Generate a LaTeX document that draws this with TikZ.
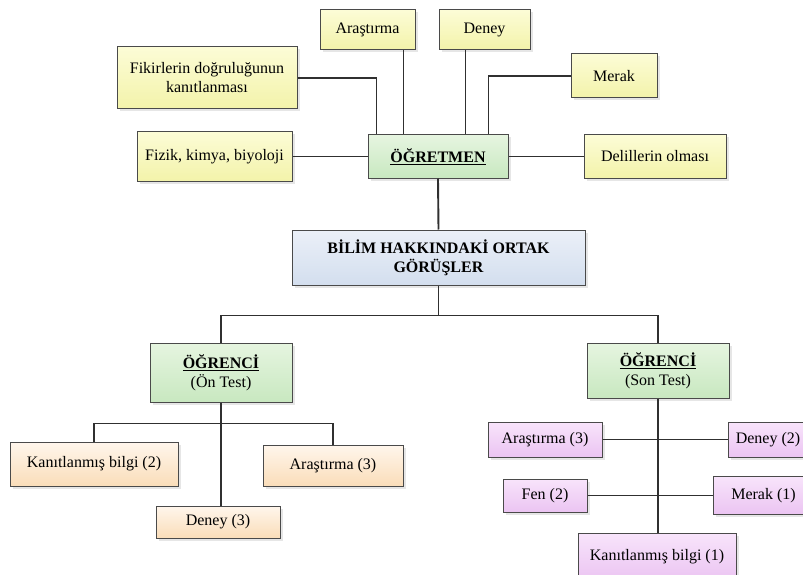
\documentclass[tikz,border=0pt]{standalone}
\usepackage{fontspec}
\setmainfont{Liberation Serif}
\usetikzlibrary{shadows}

\definecolor{linegray}{HTML}{303030}
\definecolor{boxgray}{HTML}{4A4A4A}
\definecolor{yellowtop}{HTML}{FCFCD6}
\definecolor{yellowbot}{HTML}{F3F3AA}
\definecolor{greentop}{HTML}{E6F5E0}
\definecolor{greenbot}{HTML}{C8E8C0}
\definecolor{bluetop}{HTML}{EBF0F8}
\definecolor{bluebot}{HTML}{D3DEEE}
\definecolor{peachtop}{HTML}{FFF6EC}
\definecolor{peachbot}{HTML}{FADDB9}
\definecolor{violettop}{HTML}{F8E4FB}
\definecolor{violetbot}{HTML}{EBC4F2}

\begin{document}
\begin{tikzpicture}[
      x=1pt, y=-1pt,
      every node/.style={align=center, font=\fontsize{16}{19}\selectfont},
      box/.style={draw=boxgray, line width=1pt, inner sep=2pt,
        drop shadow={opacity=0.2, shadow xshift=2.5pt, shadow yshift=-2.5pt}},
      idea/.style={box, top color=yellowtop, bottom color=yellowbot},
      person/.style={box, top color=greentop, bottom color=greenbot},
      central/.style={box, top color=bluetop, bottom color=bluebot},
      pretest/.style={box, top color=peachtop, bottom color=peachbot},
      posttest/.style={box, top color=violettop, bottom color=violetbot},
      link/.style={draw=linegray, line width=1.9pt}
    ]
      \useasboundingbox (0,0) rectangle (803,575);

% Nodes
      \node[idea, minimum width=95pt, minimum height=40pt] (arastirma) at (367.5,30) {Araştırma};
      \node[idea, minimum width=91pt, minimum height=40pt] (deney) at (484.5,30) {Deney};
      \node[idea, minimum width=180pt, minimum height=62pt] (fikir) at (207,78)
      {Fikirlerin doğruluğunun\\kanıtlanması};
      \node[idea, minimum width=86pt, minimum height=44pt] (merak) at (614,76) {Merak};
      \node[idea, minimum width=155pt, minimum height=49pt] (fizik) at (214.5,156.5) {Fizik, kimya, biyoloji};
      \node[person, minimum width=140pt, minimum height=43pt] (ogretmen) at (438,156.5)
      {\textbf{\underline{ÖĞRETMEN}}};
      \node[idea, minimum width=142pt, minimum height=43pt] (delil) at (655,156.5) {Delillerin olması};
      \node[central, minimum width=293pt, minimum height=55pt] (bilim) at (438.5,257.5)
      {\textbf{BİLİM HAKKINDAKİ ORTAK}\\\textbf{GÖRÜŞLER}};
      \node[person, minimum width=142pt, minimum height=59pt] (onogr) at (221,372.5)
      {\textbf{\underline{ÖĞRENCİ}}\\(Ön Test)};
      \node[person, minimum width=142pt, minimum height=55pt] (sonogr) at (658,370.5)
      {\textbf{\underline{ÖĞRENCİ}}\\(Son Test)};

      \node[pretest, minimum width=168pt, minimum height=44pt] (onkanit) at (94,464) {Kanıtlanmış bilgi (2)};
      \node[pretest, minimum width=140pt, minimum height=41pt] (onarastirma) at (333,465.5) {Araştırma (3)};
      \node[pretest, minimum width=124pt, minimum height=32pt] (ondeney) at (218,522) {Deney (3)};

      \node[posttest, minimum width=114pt, minimum height=35pt] (sonarastirma) at (545,439.5) {Araştırma (3)};
      \node[posttest, minimum width=80pt, minimum height=35pt] (sondeney) at (768,439.5) {Deney (2)};
      \node[posttest, minimum width=84pt, minimum height=33pt] (sonfen) at (545,495.5) {Fen (2)};
      \node[posttest, minimum width=101pt, minimum height=38pt] (sonmerak) at (763.5,495.5) {Merak (1)};
      \node[posttest, minimum width=158pt, minimum height=48pt] (sonkanit) at (657,557) {Kanıtlanmış bilgi (1)};

% Connections
      \coordinate (fikirend) at ([xshift=9pt]ogretmen.north west);
      \coordinate (arastirmaend) at ([xshift=-12pt]arastirma.south east);
      \coordinate (deneyend) at ([xshift=27pt]deney.south west);
      \coordinate (merakend) at ([xshift=-20pt]ogretmen.north east);
      \draw[link] (fikir.east) -| (fikirend);
      \draw[link] (arastirmaend) -- (arastirmaend |- ogretmen.north);
      \draw[link] (deneyend) -- (deneyend |- ogretmen.north);
      \draw[link] (merak.west) -| (merakend);
      \draw[link] (fizik.east) -- (ogretmen.west);
      \draw[link] (delil.west) -- (ogretmen.east);
      \draw[link] (ogretmen.south) -- (bilim.north);

      \draw[link] (bilim.south) -- ++(0,30) coordinate (split);
      \draw[link] (onogr.north) |- (split) -| (sonogr.north);

      \coordinate (onsplit) at ([yshift=-21pt]onogr.south);
      \draw[link] (onogr.south) -- (onogr.south |- ondeney.north);
      \draw[link] (onkanit.north) |- (onsplit) -| (onarastirma.north);

      \draw[link] (sonogr.south) -- (sonogr.south |- sonkanit.north);
      \draw[link] (sonarastirma.east) -- (sondeney.west);
      \draw[link] (sonfen.east) -- (sonmerak.west);

    \end{tikzpicture}
\end{document}
